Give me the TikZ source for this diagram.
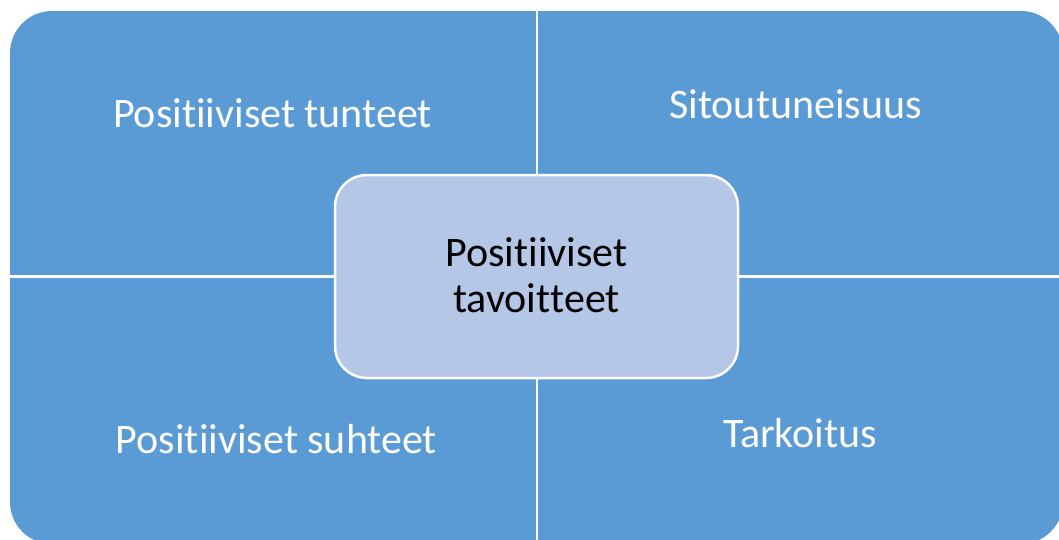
\documentclass[tikz,border=0pt]{standalone}
\usepackage{fontspec}
\setmainfont{Carlito}
\newcommand{\nolig}{\kern0pt\relax}
\definecolor{quadblue}{RGB}{91,155,213}
\definecolor{centerblue}{RGB}{180,199,231}
\tikzset{
  qtext/.style={anchor=base, text=white, font=\fontsize{42}{46}\selectfont, inner sep=0pt},
  ctext/.style={anchor=base, text=black, font=\fontsize{42}{46}\selectfont, inner sep=0pt},
  divider/.style={draw=white, line width=2.5pt},
  centerbox/.style={draw=white, line width=2.5pt, fill=centerblue, rounded corners=32pt}
}
\begin{document}
\begin{tikzpicture}[x=1pt, y=-1pt]
  \useasboundingbox (0,0) rectangle (1059,539);
  \clip (0,0) rectangle (1059,539);
  \fill[quadblue, rounded corners=42pt] (10,11) rectangle (1063,544);
  \coordinate (vtop) at (537,0);
  \coordinate (vbot) at (537,545);
  \coordinate (hleft) at (0,276.5);
  \coordinate (hright) at (1063,276.5);
  \draw[divider] (vtop) -- (vbot);
  \draw[divider] (hleft) -- (hright);
  \draw[centerbox] (335,175) rectangle (738,378);
  \node[qtext] (tl) at (272.5,127) {Posit\nolig{}iiviset tunteet};
  \node[qtext] (tr) at (795.5,118) {Sitoutuneisuus};
  \node[qtext] (bl) at (276.5,453) {Posit\nolig{}iiviset suhteet};
  \node[qtext] (br) at (800,447) {Tarkoitus};
  \node[ctext] (c1) at (536.5,266) {Posit\nolig{}iiviset};
  \node[ctext] (c2) at (536.5,312) {tavoit\nolig{}teet};
\end{tikzpicture}
\end{document}
